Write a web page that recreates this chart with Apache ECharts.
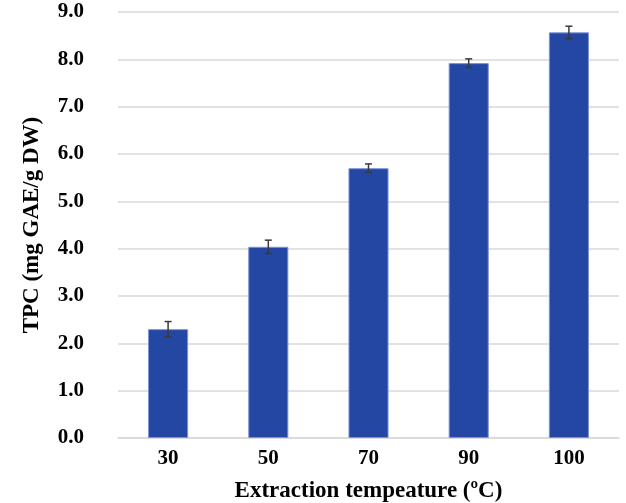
<!DOCTYPE html>
<html><head><meta charset="utf-8">
<script src="https://cdn.jsdelivr.net/npm/echarts@6/dist/echarts.min.js"></script>
<style>html,body{margin:0;padding:0;background:#fff;overflow:hidden}#c{width:626px;height:503px}</style>
</head><body><div id="c"></div>
<script>
const categories = ['30', '50', '70', '90', '100'];
const tpcValues = [2.30, 4.04, 5.70, 7.92, 8.57];
const tpcErrors = [0.16, 0.14, 0.09, 0.09, 0.13];
const yTicks = { min: 0, max: 9, interval: 1 };

const chart = echarts.init(document.getElementById('c'));
const font = '"Liberation Serif", "Times New Roman", serif';
chart.setOption({
  animation: false,
  grid: { left: 118, right: 7, top: 12, bottom: 65, containLabel: false, outerBoundsMode: 'none' },
  xAxis: {
    type: 'category', data: categories,
    name: 'Extraction tempeature (ºC)', nameLocation: 'middle', nameGap: 42,
    nameTextStyle: { fontFamily: font, fontWeight: 'bold', fontSize: 23, color: '#000' },
    axisLine: { lineStyle: { color: '#d9d9d9', width: 1.5 } },
    axisTick: { show: false },
    axisLabel: { fontFamily: font, fontWeight: 'bold', fontSize: 21, color: '#000', margin: 10 }
  },
  yAxis: {
    type: 'value', min: yTicks.min, max: yTicks.max, interval: yTicks.interval,
    name: 'TPC (mg GAE/g DW)', nameLocation: 'middle', nameGap: 74,
    nameTextStyle: { fontFamily: font, fontWeight: 'bold', fontSize: 23, color: '#000' },
    axisLine: { show: false }, axisTick: { show: false },
    splitLine: { lineStyle: { color: '#d9d9d9', width: 1.5 } },
    axisLabel: { fontFamily: font, fontWeight: 'bold', fontSize: 21, color: '#000', margin: 34,
      formatter: v => v.toFixed(1) }
  },
  series: [
    { type: 'bar', data: tpcValues, barWidth: '40%',
      itemStyle: { color: '#2447a3', borderColor: '#7d93d6', borderWidth: 1 } },
    { type: 'custom', z: 10,
      data: tpcValues.map((v, i) => [i, v, tpcErrors[i]]),
      renderItem: function (params, api) {
        const x = api.value(0), v = api.value(1), e = api.value(2);
        const top = api.coord([x, v + e]);
        const bot = api.coord([x, v - e]);
        const hw = 3.5;
        const style = { stroke: '#3a3a3a', lineWidth: 1.5 };
        return { type: 'group', children: [
          { type: 'line', shape: { x1: top[0], y1: top[1], x2: bot[0], y2: bot[1] }, style },
          { type: 'line', shape: { x1: top[0]-hw, y1: top[1], x2: top[0]+hw, y2: top[1] }, style },
          { type: 'line', shape: { x1: bot[0]-hw, y1: bot[1], x2: bot[0]+hw, y2: bot[1] }, style }
        ]};
      }
    }
  ]
});
</script></body></html>
